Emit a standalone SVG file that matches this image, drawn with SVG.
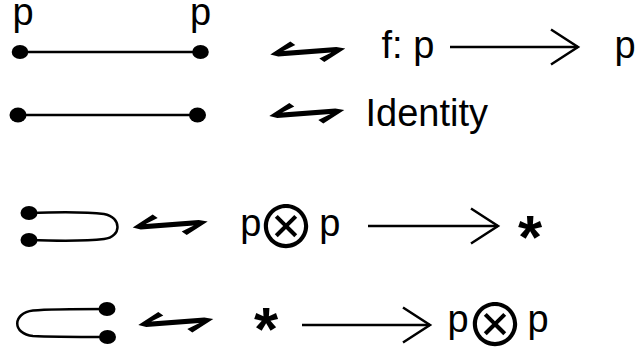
<svg xmlns="http://www.w3.org/2000/svg" xmlns:xlink="http://www.w3.org/1999/xlink" width="639" height="350" viewBox="0 0 639 350">
<style>
.t{font-family:"Liberation Sans",Arial,sans-serif;font-size:38px;fill:#000}
.op{font-family:"Noto Sans CJK JP","DejaVu Sans",sans-serif;font-size:60px;fill:#000}
.star{font-family:"Liberation Sans",Arial,sans-serif;font-weight:bold;font-size:62px;fill:#000}
.wire{fill:none;stroke:#000;stroke-width:2.5}
.dot{fill:#000}
.arr{fill:none;stroke:#000;stroke-width:2.5}
</style>
<defs>
<marker id="open" markerUnits="userSpaceOnUse" viewBox="0 0 40 40" markerWidth="40" markerHeight="40" refX="30" refY="20" orient="auto">
<path d="M3,2.5 L30,20 L3,37.5" fill="none" stroke="#000" stroke-width="2.5"/>
</marker>
<polygon id="harp" points="0,0 20,-13 25,-9.5 12.9,-3.5 66,-7.4 75,-6 54,7.5 49,4 61.1,-2 8,1.9" fill="#000"/>
</defs>

<g id="segment-p-p">
<line class="wire" x1="20" y1="52" x2="200" y2="52"/>
<ellipse class="dot" cx="20" cy="52" rx="8.3" ry="7"/>
<ellipse class="dot" cx="200.5" cy="52" rx="8.3" ry="7"/>
<text class="t" x="12.5" y="25">p</text>
<text class="t" x="190" y="25">p</text>
</g>

<g id="segment-identity">
<line class="wire" x1="18" y1="115" x2="197" y2="115"/>
<ellipse class="dot" cx="18" cy="115" rx="8.5" ry="7.5"/>
<ellipse class="dot" cx="197.5" cy="115" rx="8.5" ry="7.5"/>
</g>

<g id="cup">
<path class="wire" d="M29,213 C60,212 88,212 104,214 C122,217 122,237 104,239 C88,241 60,241 29,240"/>
<ellipse class="dot" cx="29" cy="213" rx="8.5" ry="7"/>
<ellipse class="dot" cx="29" cy="240" rx="8.5" ry="7"/>
</g>

<g id="cap">
<path class="wire" d="M107,309 C80,309 50,309 33,310.5 C12,313 12,334 33,336 C50,337 80,337 107,337"/>
<ellipse class="dot" cx="107" cy="309" rx="8.5" ry="7"/>
<ellipse class="dot" cx="107.5" cy="337" rx="8.5" ry="7"/>
</g>

<g id="expr-f">
<text class="t" x="381.5" y="58">f: p</text>
<text class="t" x="614.5" y="58">p</text>
</g>

<g id="expr-identity">
<text class="t" x="365.5" y="126">Identity</text>
</g>

<g id="expr-counit">
<text class="t" y="236"><tspan x="240.2">p</tspan><tspan class="op" x="286" text-anchor="middle" y="249.3">⊗</tspan><tspan x="319.2" y="236">p</tspan></text>
<text class="star" x="530" y="258" text-anchor="middle">*</text>
</g>

<g id="expr-unit">
<text class="star" x="266" y="350" text-anchor="middle">*</text>
<text class="t" y="332"><tspan x="447.5">p</tspan><tspan class="op" x="495" text-anchor="middle" y="347.3">⊗</tspan><tspan x="527.5" y="332">p</tspan></text>
</g>

<g id="connectors">
<use xlink:href="#harp" x="270.3" y="54.5"/>
<use xlink:href="#harp" x="269.3" y="116"/>
<use xlink:href="#harp" x="132.7" y="227.5"/>
<use xlink:href="#harp" x="138.3" y="325"/>
<line class="arr" x1="450" y1="47" x2="578" y2="47" marker-end="url(#open)"/>
<line class="arr" x1="368" y1="226" x2="498" y2="226" marker-end="url(#open)"/>
<line class="arr" x1="302" y1="325" x2="430" y2="325" marker-end="url(#open)"/>
</g>
</svg>
